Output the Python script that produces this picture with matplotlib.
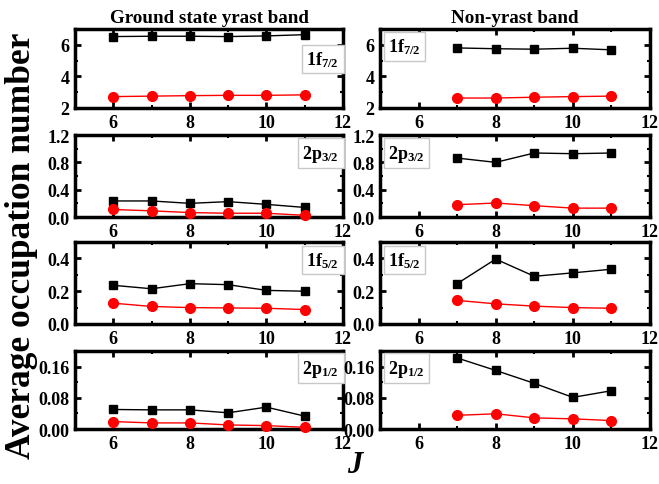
"""Average occupation numbers of 1f/2p orbitals along the yrast and non-yrast bands."""
import numpy as np
import matplotlib.pyplot as plt
from matplotlib.ticker import MultipleLocator

plt.rcParams['font.family'] = ['Liberation Serif', 'DejaVu Serif']
plt.rcParams['font.weight'] = 'bold'
plt.rcParams['mathtext.fontset'] = 'custom'
plt.rcParams['mathtext.rm'] = 'Liberation Serif:bold'
plt.rcParams['mathtext.it'] = 'Liberation Serif:italic:bold'

# 基态 yrast 带：J = 6..11
J_yrast = [6, 7, 8, 9, 10, 11]
# 非 yrast 带：J = 7..11
J_non = [7, 8, 9, 10, 11]

orbitals = ['1f$_{7/2}$', '2p$_{3/2}$', '1f$_{5/2}$', '2p$_{1/2}$']

# 黑方块 / 红圆点 两组数据
yrast_black = [
    [6.52, 6.54, 6.54, 6.52, 6.56, 6.64],
    [0.235, 0.235, 0.20, 0.225, 0.185, 0.14],
    [0.236, 0.215, 0.246, 0.240, 0.205, 0.200],
    [0.050, 0.049, 0.049, 0.0415, 0.056, 0.033],
]
yrast_red = [
    [2.72, 2.75, 2.78, 2.80, 2.80, 2.83],
    [0.11, 0.09, 0.065, 0.055, 0.055, 0.025],
    [0.127, 0.107, 0.100, 0.098, 0.096, 0.088],
    [0.019, 0.0156, 0.0156, 0.0104, 0.0087, 0.0043],
]
non_black = [
    [5.80, 5.75, 5.72, 5.78, 5.68],
    [0.863, 0.80, 0.937, 0.927, 0.937],
    [0.246, 0.396, 0.291, 0.312, 0.334],
    [0.182, 0.150, 0.117, 0.081, 0.098],
]
non_red = [
    [2.63, 2.63, 2.68, 2.72, 2.75],
    [0.18, 0.205, 0.166, 0.13, 0.13],
    [0.144, 0.123, 0.109, 0.100, 0.096],
    [0.035, 0.039, 0.0285, 0.026, 0.0216],
]

ylims = [(2, 7), (0, 1.2), (0, 0.5), (0, 0.2)]
ymajor = [2, 0.4, 0.2, 0.08]
yminor = [1, 0.2, 0.1, 0.04]
yfmt = ['{:.0f}', '{:.1f}', '{:.1f}', '{:.2f}']

# 各行坐标轴位置 (bottom, height)
rows = [(0.7753, 0.1629), (0.5505, 0.169), (0.3299, 0.169), (0.1134, 0.161)]
cols = [(0.1138, 0.4067), (0.5766, 0.4097)]


def style_axis(ax, r):
    ax.set_xlim(5, 12)
    ax.xaxis.set_major_locator(MultipleLocator(2))
    ax.xaxis.set_minor_locator(MultipleLocator(1))
    ax.yaxis.set_major_locator(MultipleLocator(ymajor[r]))
    ax.yaxis.set_minor_locator(MultipleLocator(yminor[r]))
    ax.set_ylim(*ylims[r])
    ax.yaxis.set_major_formatter(lambda v, pos, f=yfmt[r]: f.format(v))
    ax.tick_params(which='both', direction='in', top=True, right=True,
                   labelsize=13, pad=4)
    ax.tick_params(which='major', length=4, width=2)
    ax.tick_params(which='minor', length=2.5, width=1.5)
    for s in ax.spines.values():
        s.set_linewidth(2.5)


def draw(ax, J, black, red):
    ax.plot(J, black, 's-', color='black', ms=6, lw=1, clip_on=False, zorder=3)
    ax.plot(J, red, 'o-', color='red', ms=7, lw=1, clip_on=False, zorder=3)


box = dict(boxstyle='square,pad=0.25', fc='white', ec='#c8c8c8', lw=1)

fig = plt.figure(figsize=(6.59, 4.85), dpi=100)
for r in range(4):
    b, h = rows[r]
    axl = fig.add_axes([cols[0][0], b, cols[0][1], h])
    draw(axl, J_yrast, yrast_black[r], yrast_red[r])
    style_axis(axl, r)
    ly = 0.62 if r == 0 else 0.78
    axl.text(0.985, ly, orbitals[r], transform=axl.transAxes, ha='right',
             va='center', fontsize=13, fontweight='bold', bbox=box, zorder=5)

    axr = fig.add_axes([cols[1][0], b, cols[1][1], h])
    draw(axr, J_non, non_black[r], non_red[r])
    style_axis(axr, r)
    axr.text(0.03, 0.78, orbitals[r], transform=axr.transAxes, ha='left',
             va='center', fontsize=13, fontweight='bold', bbox=box, zorder=5)

    if r == 0:
        axl.set_title('Ground state yrast band', fontsize=13.7, fontweight='bold', pad=5)
        axr.set_title('Non-yrast band', fontsize=13.7, fontweight='bold', pad=5)

fig.text(0.032, 0.493, 'Average occupation number', rotation=90, ha='center',
         va='center', fontsize=25.5, fontweight='bold')
fig.text(0.54, 0.04, '$J$', ha='center', va='center', fontsize=22)

fig.savefig('out.png', dpi=100)
